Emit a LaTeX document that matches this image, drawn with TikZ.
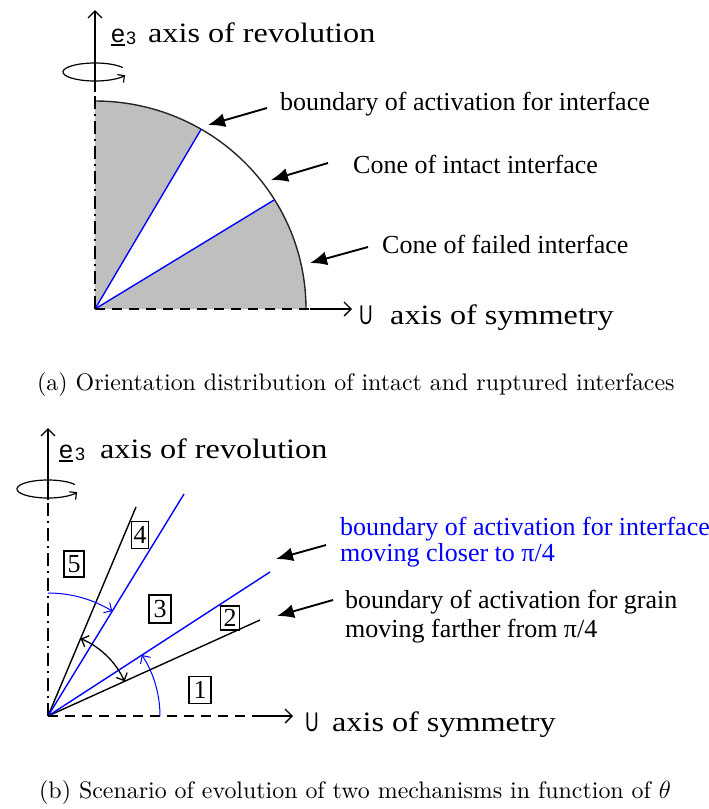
\documentclass[tikz,border=0pt]{standalone}
\usepackage{fontspec}
\usetikzlibrary{arrows.meta}
\newfontfamily\bigf{Liberation Serif}[FakeStretch=1.15]
\newfontfamily\labf{Liberation Serif}
\newfontfamily\sansf{Liberation Sans}
\newfontfamily\capf{lmroman10-regular.otf}
\tikzset{
  bigtxt/.style={font=\bigf\fontsize{28}{30}\selectfont, inner sep=0pt, anchor=base west},
  labtxt/.style={font=\labf\fontsize{26}{28}\selectfont, inner sep=0pt, anchor=base west},
  captxt/.style={font=\capf\fontsize{23.9}{26}\selectfont, inner sep=0pt, anchor=base west},
  etxt/.style={font=\sansf\fontsize{25}{25}\selectfont, inner sep=0pt, anchor=base west},
  subtxt/.style={font=\sansf\fontsize{18}{18}\selectfont, inner sep=0pt, anchor=base west},
  utxt/.style={font=\sansf\fontsize{27}{27}\selectfont, inner sep=0pt, anchor=base west},
  numbox/.style={draw, line width=1.2pt, font=\labf\fontsize{26}{26}\selectfont, inner sep=0pt, minimum width=20pt, minimum height=26pt},
  annot/.style={line width=1.9pt, -{Latex[length=17pt,width=14pt]}},
  blueline/.style={blue, line width=1.4pt},
  blackline/.style={black, line width=1.4pt},
  axisarrow/.style={line width=1.3pt, -{Straight Barb[length=7pt,width=14pt]}},
  dashaxis/.style={line width=1.3pt, dash pattern=on 10pt off 7pt},
  dashdot/.style={line width=1.3pt, dash pattern=on 13pt off 5pt on 2pt off 5pt},
  rotarrow/.style={line width=1.2pt, -{Straight Barb[length=5pt,width=10pt]}},
  bluearc/.style={blue, line width=1.0pt, -{Straight Barb[length=6pt,width=12pt]}},
  blackarc/.style={black, line width=1.3pt, {Straight Barb[length=6pt,width=12pt]}-{Straight Barb[length=6pt,width=12pt]}},
}
\begin{document}
\begin{tikzpicture}[x=1pt,y=-1pt]
\useasboundingbox (0,0) rectangle (709,809);
\fill[white] (0,0) rectangle (709,809);

% ---------------- panel (a) ----------------
\coordinate (O1) at (95,309);
\coordinate (R1) at (306,309);
\coordinate (P1) at (274.6,199.7);
\coordinate (P2) at (201.1,129.3);
\fill[black!25] (O1) -- (R1) arc[start angle=0, end angle=-90, x radius=211, y radius=208] -- cycle;
\fill[white] (O1) -- (P1) arc[start angle=-31.7, end angle=-59.8, x radius=211, y radius=208] -- cycle;
\draw[line width=1.4pt, black!85] (R1) arc[start angle=0, end angle=-90, x radius=211, y radius=208];
\draw[blueline] (O1) -- (P1);
\draw[blueline] (O1) -- (P2);

\coordinate (V1a) at (95,92);
\coordinate (V1b) at (95,10);
\draw[dashdot] (O1) -- (V1a);
\draw[axisarrow] (V1a) -- (V1b);
\coordinate (H1a) at (310,309);
\coordinate (H1b) at (352,309);
\draw[dashaxis] (O1) -- (H1a);
\draw[axisarrow] (H1a) -- (H1b);
\coordinate (E1) at (122.7,67.5);
\draw[rotarrow] (E1) arc[start angle=-30, end angle=-340, x radius=32, y radius=9];

\node[etxt] (e1) at (111,42) {e};
\draw[line width=1.4pt] ([yshift=-3pt]e1.base west) -- ([yshift=-3pt]e1.base east);
\node[subtxt] (s1) at (126,44) {3};
\node[bigtxt] (t1) at (148,42) {axis of revolution};
\node[utxt] (u1) at (359,324) {\scalebox{0.7}[1]{U}};
\node[bigtxt] (x1) at (390,324) {axis of symmetry};

\node[labtxt] (L1) at (280,110) {boundary of activation for interface};
\node[labtxt] (L2) at (353,173) {Cone of intact interface};
\node[labtxt] (L3) at (382,253) {Cone of failed interface};
\coordinate (A1t) at (267,108); \coordinate (A1h) at (208,125);
\coordinate (A2t) at (328,163); \coordinate (A2h) at (271,180);
\coordinate (A3t) at (368,247); \coordinate (A3h) at (310,263);
\draw[annot] (A1t) -- (A1h);
\draw[annot] (A2t) -- (A2h);
\draw[annot] (A3t) -- (A3h);

\node[captxt] (capa) at (37,390) {(a) Orientation distribution of intact and ruptured interfaces};

% ---------------- panel (b) ----------------
\coordinate (O2) at (48,716);
\coordinate (K1) at (260,620);
\coordinate (B1) at (270,572);
\coordinate (B2) at (184,494);
\coordinate (K2) at (136,507);
\draw[blackline] (O2) -- (K1);
\draw[blackline] (O2) -- (K2);
\draw[blueline] (O2) -- (B1);
\draw[blueline] (O2) -- (B2);

\coordinate (V2a) at (48,500);
\coordinate (V2b) at (48,428);
\draw[dashdot] (O2) -- (V2a);
\draw[axisarrow] (V2a) -- (V2b);
\coordinate (H2a) at (253,716);
\coordinate (H2b) at (293,716);
\draw[dashaxis] (O2) -- (H2a);
\draw[axisarrow] (H2a) -- (H2b);
\coordinate (E2) at (74.8,484.5);
\draw[rotarrow] (E2) arc[start angle=-30, end angle=-340, x radius=31, y radius=9];

\coordinate (C1) at (160,716);
\draw[bluearc] (C1) arc[start angle=0, end angle=-33, radius=112];
\coordinate (C2) at (48,593);
\draw[bluearc] (C2) arc[start angle=-90, end angle=-58.5, radius=123];
\coordinate (C3) at (80.6,638.6);
\draw[blackarc] (C3) arc[start angle=-67.2, end angle=-24.4, radius=84];

\node[numbox, fill=white] (n5) at (74,564) {5};
\node[numbox, minimum width=17pt, minimum height=27pt] (n4) at (140,535) {4};
\node[numbox, minimum width=22pt, minimum height=28pt] (n3) at (160,609) {3};
\node[numbox, minimum width=19pt, minimum height=24pt] (n2) at (230,618) {2};
\node[numbox, minimum width=22pt, minimum height=27pt] (n1) at (200,690) {1};

\node[etxt] (e2) at (59,458) {e};
\draw[line width=1.4pt] ([yshift=-3pt]e2.base west) -- ([yshift=-3pt]e2.base east);
\node[subtxt] (s2) at (75,460) {3};
\node[bigtxt] (t2) at (100,458) {axis of revolution};
\node[utxt] (u2) at (305,731) {\scalebox{0.7}[1]{U}};
\node[bigtxt] (x2) at (332,731) {axis of symmetry};

\node[labtxt, text=blue] (M1) at (340,535) {boundary of activation for interface};
\node[labtxt, text=blue] (M2) at (340,561) {moving closer to π/4};
\node[labtxt] (M3) at (345,608) {boundary of activation for grain};
\node[labtxt] (M4) at (345,637) {moving farther from π/4};
\coordinate (B1t) at (326,545); \coordinate (B1h) at (276,559);
\coordinate (B2t) at (333,600); \coordinate (B2h) at (277,616);
\draw[annot] (B1t) -- (B1h);
\draw[annot] (B2t) -- (B2h);

\node[captxt] (capb) at (39,798) {(b) Scenario of evolution of two mechanisms in function of $\theta$};
\end{tikzpicture}
\end{document}
